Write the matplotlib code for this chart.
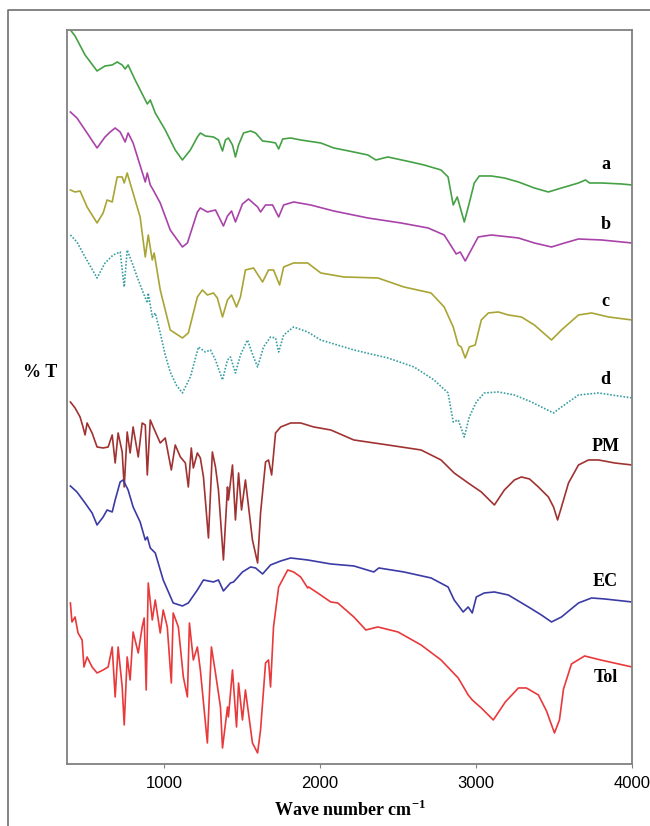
import numpy as np
import matplotlib.pyplot as plt
from matplotlib.lines import Line2D

# FTIR spectra, stacked (%T in arbitrary offset units)
wn_a = [400, 430, 494, 571, 622, 668, 700, 732, 751, 770, 815, 880, 893, 912, 944, 1008, 1072, 1118,
        1169, 1214, 1233, 1265, 1317, 1349, 1375, 1394, 1413, 1439, 1458, 1478, 1510, 1555, 1587, 1632,
        1683, 1715, 1735, 1761, 1812, 1876, 2005, 2088, 2185, 2307, 2358, 2435, 2583, 2667, 2776, 2821,
        2854, 2880, 2925, 2957, 2989, 3021, 3098, 3182, 3272, 3374, 3464, 3548, 3657, 3702, 3728, 3805,
        3934, 4000]
t_a = [734, 728, 709, 693, 698, 699, 702, 699, 695, 699, 684, 664, 660, 664, 651, 634, 614, 604,
       614, 627, 631, 628, 627, 624, 613, 624, 626, 619, 607, 619, 631, 633, 631, 623,
       622, 621, 615, 625, 626, 624, 621, 616, 613, 609, 604, 607, 602, 599, 594, 587,
       559, 567, 542, 561, 581, 588, 588, 586, 582, 576, 572, 576, 581, 584, 581, 581,
       580, 579]

wn_b = [400, 442, 507, 571, 622, 655, 687, 719, 751, 770, 802, 880, 893, 912, 931, 976, 1040, 1118,
        1150, 1214, 1233, 1278, 1330, 1381, 1407, 1433, 1458, 1503, 1542, 1600, 1619, 1651, 1696, 1735,
        1767, 1831, 1940, 2088, 2307, 2519, 2693, 2796, 2841, 2873, 2899, 2931, 2969, 3014, 3098, 3272,
        3374, 3484, 3568, 3657, 3805, 4000]
t_b = [652, 646, 631, 616, 627, 632, 636, 632, 622, 631, 621, 582, 591, 579, 574, 561, 534, 517,
       521, 552, 556, 552, 554, 538, 548, 553, 542, 560, 565, 557, 552, 559, 559, 547,
       559, 562, 559, 553, 546, 541, 536, 529, 518, 510, 512, 503, 514, 527, 529, 526,
       521, 517, 521, 525, 524, 521]

wn_c = [400, 430, 462, 507, 571, 610, 635, 668, 700, 732, 745, 764, 796, 847, 880, 899, 925, 937,
        976, 1040, 1118, 1156, 1214, 1246, 1278, 1317, 1342, 1375, 1407, 1433, 1465, 1490, 1522, 1574,
        1632, 1670, 1702, 1741, 1767, 1831, 1921, 2005, 2153, 2371, 2538, 2712, 2796, 2854, 2886, 2905,
        2931, 2957, 2995, 3034, 3079, 3143, 3207, 3291, 3374, 3484, 3548, 3657, 3741, 3850, 4000]
t_c = [574, 572, 573, 557, 541, 551, 564, 562, 587, 587, 581, 591, 574, 547, 507, 529, 504, 511,
       474, 434, 426, 431, 467, 474, 469, 471, 466, 447, 464, 469, 457, 467, 494, 496,
       482, 494, 494, 479, 497, 501, 501, 491, 487, 486, 477, 471, 457, 437, 419, 417,
       406, 417, 419, 444, 451, 452, 449, 447, 439, 424, 434, 449, 451, 447, 444]

wn_d = [400, 442, 494, 571, 622, 674, 719, 745, 764, 796, 828, 860, 893, 899, 925, 944, 976, 1008,
        1040, 1079, 1118, 1169, 1221, 1265, 1298, 1330, 1375, 1407, 1426, 1458, 1490, 1535, 1574, 1600,
        1638, 1683, 1715, 1735, 1767, 1831, 1921, 2005, 2217, 2435, 2603, 2731, 2821, 2854, 2886, 2925,
        2957, 3002, 3053, 3143, 3246, 3355, 3432, 3497, 3548, 3657, 3786, 3870, 4000]
t_d = [529, 522, 507, 486, 501, 509, 512, 477, 514, 501, 487, 474, 461, 471, 447, 451, 431, 409,
       392, 379, 371, 387, 417, 412, 414, 404, 384, 404, 407, 391, 409, 424, 407, 397,
       417, 427, 426, 412, 429, 437, 432, 424, 414, 406, 397, 384, 371, 342, 344, 327,
       347, 362, 371, 372, 369, 362, 356, 351, 357, 369, 371, 369, 366]

wn_pm = [400, 430, 462, 481, 494, 507, 539, 571, 610, 642, 668, 687, 706, 732, 745, 764, 783, 802,
         835, 860, 880, 893, 912, 931, 976, 1008, 1047, 1072, 1105, 1137, 1156, 1175, 1188, 1214, 1233,
         1253, 1285, 1310, 1330, 1349, 1381, 1407, 1413, 1439, 1458, 1478, 1497, 1522, 1567, 1600, 1619,
         1651, 1670, 1690, 1715, 1748, 1812, 1876, 1960, 2069, 2217, 2435, 2648, 2776, 2860, 2950, 3034,
         3118, 3182, 3246, 3291, 3343, 3400, 3464, 3497, 3523, 3548, 3593, 3657, 3721, 3786, 3889, 4000]
t_pm = [362, 356, 347, 337, 329, 341, 331, 317, 316, 317, 329, 301, 331, 312, 277, 332, 311, 337,
        307, 341, 339, 289, 344, 337, 321, 326, 294, 319, 307, 301, 277, 316, 296, 311, 306,
        287, 226, 312, 297, 274, 204, 277, 264, 299, 244, 291, 254, 284, 224, 201, 251,
        302, 304, 289, 331, 337, 341, 341, 337, 334, 324, 319, 314, 304, 291, 281, 272,
        259, 274, 284, 287, 285, 277, 267, 257, 244, 257, 281, 299, 304, 304, 301, 299]

wn_ec = [400, 442, 494, 539, 571, 610, 635, 668, 687, 719, 738, 770, 802, 847, 880, 893, 912, 944,
         995, 1059, 1118, 1156, 1214, 1253, 1317, 1349, 1381, 1426, 1446, 1503, 1555, 1587, 1632, 1683,
         1748, 1812, 1921, 2069, 2217, 2345, 2377, 2538, 2712, 2821, 2860, 2918, 2950, 2976, 3002, 3053,
         3118, 3207, 3336, 3419, 3484, 3548, 3657, 3741, 3825, 4000]
t_ec = [278, 272, 261, 251, 239, 247, 254, 252, 264, 282, 284, 274, 257, 242, 224, 227, 216, 211,
        184, 161, 158, 161, 174, 184, 182, 184, 173, 181, 182, 192, 197, 196, 190, 199,
        203, 206, 204, 200, 198, 192, 196, 192, 186, 177, 164, 152, 157, 151, 167, 171,
        172, 169, 157, 149, 142, 147, 161, 166, 165, 162]

wn_tol = [400, 410, 430, 449, 475, 487, 507, 539, 571, 610, 642, 668, 687, 706, 732, 745, 764, 783,
          802, 835, 860, 873, 886, 899, 925, 944, 976, 995, 1021, 1047, 1059, 1092, 1124, 1150, 1163,
          1188, 1214, 1233, 1278, 1304, 1330, 1362, 1375, 1407, 1413, 1439, 1465, 1478, 1503, 1522, 1567,
          1600, 1619, 1651, 1670, 1683, 1702, 1735, 1793, 1831, 1876, 1921, 1927, 1985, 2069, 2114, 2217,
          2294, 2371, 2500, 2648, 2776, 2886, 2950, 2976, 3034, 3111, 3188, 3272, 3323, 3400, 3452, 3503,
          3535, 3561, 3612, 3696, 3799, 4000]
t_tol = [161, 142, 147, 131, 124, 97, 107, 97, 91, 94, 97, 117, 67, 117, 77, 39, 107, 84,
         132, 111, 137, 146, 74, 181, 144, 164, 131, 154, 137, 81, 151, 137, 87, 67, 141,
         104, 117, 94, 21, 117, 91, 57, 16, 57, 47, 94, 37, 81, 44, 74, 21,
         11, 34, 101, 104, 77, 137, 177, 194, 192, 187, 176, 177, 171, 162, 161, 147,
         134, 137, 132, 119, 104, 86, 69, 64, 56, 44, 62, 76, 76, 69, 53, 31,
         44, 75, 100, 108, 104, 97]

names = ["a", "b", "c", "d", "PM", "EC", "Tol"]
waves = [wn_a, wn_b, wn_c, wn_d, wn_pm, wn_ec, wn_tol]
trans = [t_a, t_b, t_c, t_d, t_pm, t_ec, t_tol]

colors = ["#45a145", "#a943a9", "#a9a534", "#3a9fa3", "#a03232", "#3b3ba6", "#e8393b"]
styles = ["-", "-", "-", (0, (1, 1)), "-", "-", "-"]
label_dy = [20, 18, 18, 18, 18, 20, -11]

plt.rcParams['mathtext.fontset'] = 'custom'
plt.rcParams['mathtext.rm'] = 'Liberation Serif'
plt.rcParams['mathtext.bf'] = 'Liberation Serif:bold'

fig = plt.figure(figsize=(6.5, 8.26), dpi=100)
ax = fig.add_axes([0.1035, 0.0751, 0.8688, 0.8886])

for wn, t, c, ls in zip(waves, trans, colors, styles):
    ax.plot(wn, t, color=c, lw=1.2, ls=ls)

serif = ["Liberation Serif", "DejaVu Serif"]
for name, t, dy in zip(names, trans, label_dy):
    ax.text(3830, t[-1] + dy, name, ha="center", va="center", fontsize=13,
            fontweight="bold", family=serif)

ax.set_xlim(380, 4000)
ax.set_ylim(0, 734)
ax.set_yticks([])
ax.set_xticks([1000, 2000, 3000, 4000])
ax.set_xticklabels(["1000", "2000", "3000", "4000"], family="Liberation Sans", fontsize=12)
ax.tick_params(axis="x", direction="out", length=3, color="#808080", pad=6)
for sp in ax.spines.values():
    sp.set_color("#808080")
    sp.set_linewidth(1.3)

ax.set_xlabel("Wave number cm$^{\\mathbf{-1}}$", family=serif, fontsize=13, fontweight="bold", labelpad=6)
fig.text(40 / 650, 1 - 373 / 826, "% T", ha="center", va="center", fontsize=13,
         fontweight="bold", family=serif)

# outer frame (left and top edges only visible)
fig.add_artist(Line2D([8 / 650, 8 / 650, 1.0], [0.0, 1 - 10 / 826, 1 - 10 / 826],
                      transform=fig.transFigure, color="#707070", lw=1.2))

fig.savefig("out.png", dpi=100)
